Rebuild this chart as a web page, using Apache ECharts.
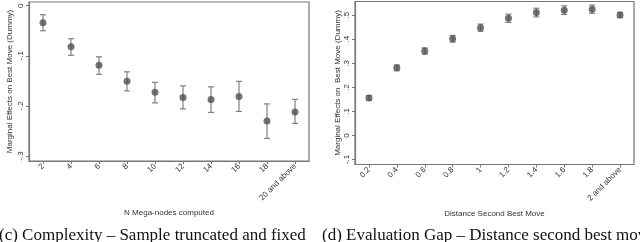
<!DOCTYPE html>
<html><head><meta charset="utf-8">
<script src="https://cdn.jsdelivr.net/npm/echarts@6/dist/echarts.min.js"></script>
<style>html,body{margin:0;padding:0;background:#fff}#c{width:640px;height:242px}</style>
</head><body><div id="c"></div>
<script>
const leftCategories = ['2','4','6','8','10','12','14','16','18','20 and above'];
const leftMean = [-0.034,-0.082,-0.119,-0.151,-0.173,-0.183,-0.187,-0.181,-0.230,-0.212];
const leftLow  = [-0.050,-0.099,-0.137,-0.170,-0.194,-0.206,-0.213,-0.211,-0.265,-0.235];
const leftHigh = [-0.018,-0.066,-0.102,-0.132,-0.153,-0.160,-0.162,-0.151,-0.196,-0.187];
const leftTicks = [0,-0.1,-0.2,-0.3];

const rightCategories = ['0.2','0.4','0.6','0.8','1','1.2','1.4','1.6','1.8','2 and above'];
const rightMean = [0.156,0.281,0.351,0.402,0.448,0.487,0.511,0.521,0.525,0.501];
const rightLow  = [0.146,0.269,0.338,0.388,0.433,0.470,0.493,0.503,0.508,0.490];
const rightHigh = [0.166,0.293,0.364,0.416,0.463,0.504,0.529,0.539,0.542,0.512];
const rightTicks = [-0.1,0,0.1,0.2,0.3,0.4,0.5];

const yTitle = 'Marginal Effects on Best Move (Dummy)';
const yTitleRight = 'Marginal Effects on  Best Move (Dummy)';
const xTitleLeft = 'N Mega-nodes computed';
const xTitleRight = 'Distance Second Best Move';
const captionLeft = '(c) Complexity \u2013 Sample truncated and fixed';
const captionRight = '(d) Evaluation Gap \u2013 Distance second best move';

const TXT = '#333';
const AX = '#777';
const FONT = 'Liberation Sans, Arial, sans-serif';

function fmt(v){
  if (Math.abs(v) < 1e-9) return '0';
  const s = Math.abs(v).toFixed(1).replace(/^0/,'');
  return (v<0?'-':'') + s;
}
function errRender(params, api){
  const x = api.value(0), lo = api.value(1), hi = api.value(2);
  const p1 = api.coord([x, hi]), p2 = api.coord([x, lo]);
  const w = 3;
  const st = {stroke:'#808080', lineWidth:1.2};
  return {type:'group', children:[
    {type:'line', shape:{x1:p1[0],y1:p1[1],x2:p2[0],y2:p2[1]}, style:st},
    {type:'line', shape:{x1:p1[0]-w,y1:p1[1],x2:p1[0]+w,y2:p1[1]}, style:st},
    {type:'line', shape:{x1:p2[0]-w,y1:p2[1],x2:p2[0]+w,y2:p2[1]}, style:st}
  ]};
}
function xAxisCfg(cats, gi, name, gap){
  return {type:'category', gridIndex:gi, data:cats, boundaryGap:true,
    axisLine:{show:true, onZero:false, lineStyle:{color:AX, width:1.2}},
    axisTick:{show:true, alignWithLabel:true, length:3, lineStyle:{color:AX}},
    axisLabel:{rotate:45, fontSize:8, color:TXT, margin:4, fontFamily:FONT, interval:0},
    name:name, nameLocation:'middle', nameGap:gap,
    nameTextStyle:{fontSize:8, color:TXT, fontFamily:FONT},
    splitLine:{show:false}};
}
function yAxisCfg(gi, min, max, ticks, name, gap){
  return {type:'value', gridIndex:gi, min:min, max:max,
    axisLine:{show:true, onZero:false, lineStyle:{color:AX, width:1.2}},
    axisTick:{show:true, length:3, lineStyle:{color:AX}, customValues:ticks},
    axisLabel:{rotate:90, fontSize:8, color:TXT, margin:4, fontFamily:FONT, customValues:ticks, formatter:fmt},
    splitLine:{show:false},
    name:name, nameLocation:'middle', nameGap:gap, nameRotate:90,
    nameTextStyle:{fontSize:8, color:TXT, fontFamily:FONT}};
}
const chart = echarts.init(document.getElementById('c'), null, {renderer:'canvas'});
chart.setOption({
  animation:false,
  grid:[
    {left:29, top:2, width:280, height:159, show:true, borderColor:AX, borderWidth:1.2, containLabel:false},
    {left:355, top:1.5, width:279, height:163, show:true, borderColor:AX, borderWidth:1.2, containLabel:false}
  ],
  xAxis:[xAxisCfg(leftCategories,0,xTitleLeft,44), xAxisCfg(rightCategories,1,xTitleRight,40)],
  yAxis:[yAxisCfg(0,-0.31,0.0074,leftTicks,yTitle,15), yAxisCfg(1,-0.121,0.557,rightTicks,yTitleRight,12)],
  series:[
    {type:'custom', xAxisIndex:0, yAxisIndex:0, renderItem:errRender,
     data:leftCategories.map((c,i)=>[i,leftLow[i],leftHigh[i]])},
    {type:'scatter', xAxisIndex:0, yAxisIndex:0, symbol:'circle', symbolSize:7,
     itemStyle:{color:'#505050'}, data:leftMean.map((v,i)=>[i,v])},
    {type:'custom', xAxisIndex:1, yAxisIndex:1, renderItem:errRender,
     data:rightCategories.map((c,i)=>[i,rightLow[i],rightHigh[i]])},
    {type:'scatter', xAxisIndex:1, yAxisIndex:1, symbol:'circle', symbolSize:7,
     itemStyle:{color:'#505050'}, data:rightMean.map((v,i)=>[i,v])}
  ],
  graphic:[
    {type:'text', left:-1, top:227, style:{text:captionLeft, font:'17px "Liberation Serif", serif', fill:'#111'}},
    {type:'text', left:322, top:227, style:{text:captionRight, font:'17px "Liberation Serif", serif', fill:'#111'}}
  ]
});
</script></body></html>
